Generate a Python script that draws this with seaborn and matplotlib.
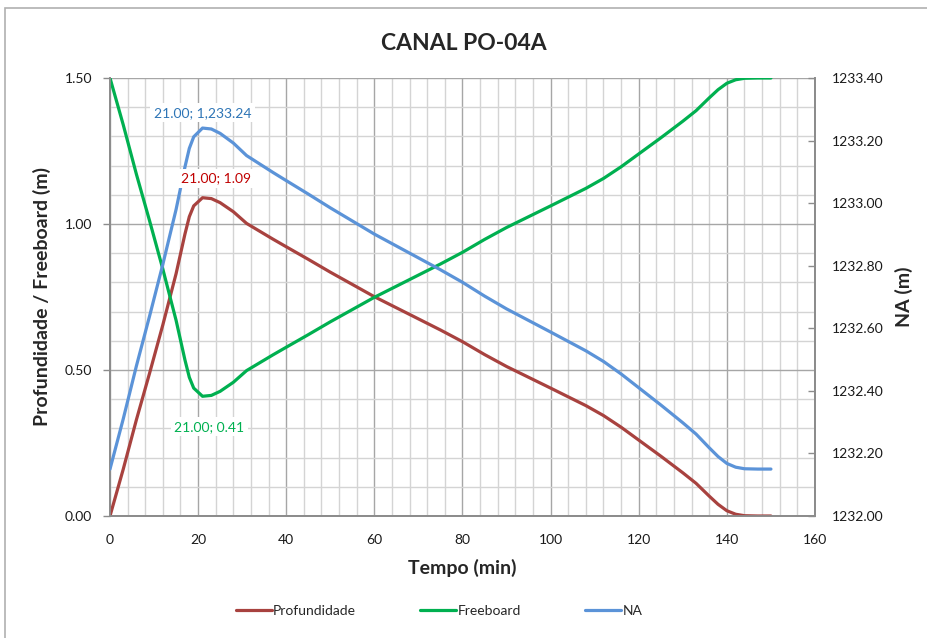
import matplotlib
matplotlib.use("Agg")
import matplotlib.pyplot as plt
import matplotlib.patches as mpatches
from matplotlib.lines import Line2D
from matplotlib.ticker import MultipleLocator, FormatStrFormatter
import seaborn as sns
import pandas as pd

# ---- data ----
tempo = [0, 3, 6, 9, 12, 15, 17, 18, 19, 21, 23, 25, 28, 31, 34, 37, 40, 45, 50,
         55, 60, 65, 70, 75, 80, 85, 90, 95, 100, 104, 108, 112, 116, 120, 125, 130,
         133, 136, 138, 140, 142, 144, 147, 150]
profundidade = [0.00, 0.16, 0.33, 0.49, 0.655, 0.83, 0.965, 1.025, 1.062, 1.09, 1.087,
                1.073, 1.042, 1.002, 0.975, 0.948, 0.922, 0.879, 0.835, 0.793, 0.751,
                0.713, 0.675, 0.637, 0.597, 0.553, 0.512, 0.475, 0.438, 0.408, 0.378,
                0.344, 0.304, 0.26, 0.205, 0.148, 0.112, 0.068, 0.04, 0.018, 0.006,
                0.001, 0.0, 0.0]
freeboard = [1.50, 1.34, 1.17, 1.01, 0.845, 0.67, 0.535, 0.475, 0.438, 0.41, 0.413,
             0.427, 0.458, 0.498, 0.525, 0.552, 0.578, 0.621, 0.665, 0.707, 0.749,
             0.787, 0.825, 0.863, 0.903, 0.947, 0.988, 1.025, 1.062, 1.092, 1.122,
             1.156, 1.196, 1.24, 1.295, 1.352, 1.388, 1.432, 1.46, 1.482, 1.494,
             1.499, 1.50, 1.50]
na = [1232.15, 1232.31, 1232.48, 1232.64, 1232.805, 1232.98, 1233.115, 1233.175,
      1233.212, 1233.24, 1233.237, 1233.223, 1233.192, 1233.152, 1233.125, 1233.098,
      1233.072, 1233.029, 1232.985, 1232.943, 1232.901, 1232.863, 1232.825,
      1232.787, 1232.747, 1232.703, 1232.662, 1232.625, 1232.588, 1232.558, 1232.528,
      1232.494, 1232.454, 1232.41, 1232.355, 1232.298, 1232.262, 1232.218, 1232.19,
      1232.168, 1232.156, 1232.151, 1232.15, 1232.15]

labels_txt = {"na": "21.00; 1,233.24", "prof": "21.00; 1.09", "free": "21.00; 0.41"}

df = pd.DataFrame({"Tempo": tempo, "Profundidade": profundidade,
                   "Freeboard": freeboard, "NA": na})

RED = "#A8423F"
GREEN = "#00B050"
BLUE = "#5B93D8"
FONT = "Lato"

sns.set_theme(style="white")
plt.rcParams["font.family"] = [FONT, "DejaVu Sans"]

fig = plt.figure(figsize=(9.28, 6.38), dpi=100)
ax = fig.add_axes([110 / 928, 1 - 516 / 638, (815 - 110) / 928, (516 - 78) / 638])
ax2 = ax.twinx()

# chart border
fig.patches.append(mpatches.Rectangle((5 / 928, -0.1), 1.2, 1 - 8 / 638 + 0.1,
                                      transform=fig.transFigure, fill=False,
                                      edgecolor="#b0b0b0", lw=1.2, zorder=0))

lw = 2.3
sns.lineplot(data=df, x="Tempo", y="Profundidade", ax=ax, color=RED, lw=lw,
             legend=False, zorder=3)
sns.lineplot(data=df, x="Tempo", y="Freeboard", ax=ax, color=GREEN, lw=lw,
             legend=False, zorder=3)
sns.lineplot(data=df, x="Tempo", y="NA", ax=ax2, color=BLUE, lw=lw,
             legend=False, zorder=3)

ax.set_xlim(0, 160)
ax.set_ylim(0, 1.5)
ax2.set_ylim(1232.0, 1233.4)

ax.xaxis.set_major_locator(MultipleLocator(20))
ax.xaxis.set_minor_locator(MultipleLocator(4))
ax.yaxis.set_major_locator(MultipleLocator(0.5))
ax.yaxis.set_minor_locator(MultipleLocator(0.1))
ax.yaxis.set_major_formatter(FormatStrFormatter("%.2f"))
ax2.yaxis.set_major_locator(MultipleLocator(0.2))
ax2.yaxis.set_major_formatter(FormatStrFormatter("%.2f"))

ax.grid(which="major", color="#a6a6a6", lw=1.0, zorder=0)
ax.grid(which="minor", color="#d4d4d4", lw=1.0, zorder=0)
ax2.grid(False)
ax.set_axisbelow(True)

spine_c = "#8c8c8c"
for a in (ax, ax2):
    a.spines["top"].set_visible(False)
    for s in ("left", "right", "bottom"):
        a.spines[s].set_color(spine_c)
        a.spines[s].set_linewidth(1.3)

ax.tick_params(axis="both", which="major", direction="out", length=5, width=1,
               color=spine_c, labelsize=10, labelcolor="#1a1a1a", pad=4)
ax.tick_params(axis="both", which="minor", length=0)
ax.tick_params(axis="x", pad=8)
ax.tick_params(axis="y", pad=8)
ax2.tick_params(axis="y", which="major", direction="in", length=5, width=1,
                color=spine_c, labelsize=10, labelcolor="#1a1a1a", pad=12)

ax.set_xlabel("Tempo (min)", fontsize=14, fontweight="bold", labelpad=9)
ax.set_ylabel("Profundidade / Freeboard (m)", fontsize=14, fontweight="bold",
              labelpad=10)
ax2.set_ylabel("NA (m)", fontsize=14, fontweight="bold", labelpad=8)

fig.text(0.5, 1 - 43 / 638, "CANAL PO-04A", ha="center", va="center",
         fontsize=16.5, fontweight="bold")

# data labels
bbox = dict(boxstyle="square,pad=0.25", fc="white", ec="none")
peak_i = tempo.index(21)
ax2.annotate(labels_txt["na"], xy=(tempo[peak_i], na[peak_i]), xytext=(0, 11),
             textcoords="offset points", ha="center", va="center", color="#2E75B6",
             fontsize=10, bbox=bbox, zorder=5)
ax2.annotate(labels_txt["prof"], xy=(tempo[peak_i], profundidade[peak_i]),
             xycoords=ax.transData, xytext=(10, 14), textcoords="offset points",
             ha="center", va="center", color="#C00000", fontsize=10, bbox=bbox,
             zorder=5)
ax2.annotate(labels_txt["free"], xy=(tempo[peak_i], freeboard[peak_i]),
             xycoords=ax.transData, xytext=(5, -22), textcoords="offset points",
             ha="center", va="center", color="#00B050", fontsize=10, bbox=bbox,
             zorder=5)

handles = [Line2D([], [], color=RED, lw=lw), Line2D([], [], color=GREEN, lw=lw),
           Line2D([], [], color=BLUE, lw=lw)]
fig.legend(handles, ["Profundidade", "Freeboard", "NA"], loc="center",
           bbox_to_anchor=(0.473, 1 - 611 / 638), ncol=3, frameon=False,
           fontsize=10, handlelength=2.6, handletextpad=0.1, columnspacing=4.6)

fig.savefig("out.png", dpi=100)
